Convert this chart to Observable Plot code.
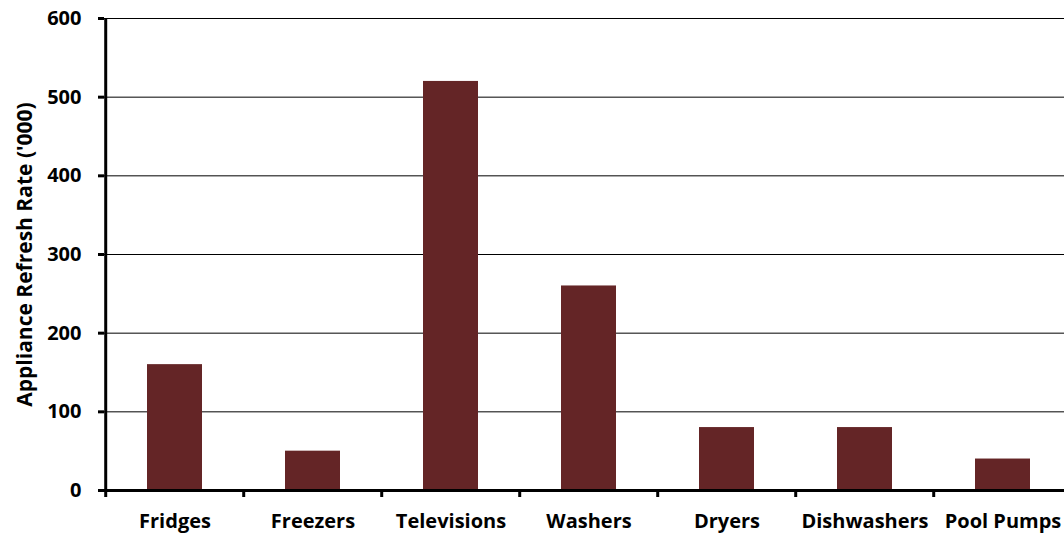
<!DOCTYPE html>
<html>
<head>
<meta charset="utf-8">
<script src="https://cdn.jsdelivr.net/npm/d3@7"></script>
<script src="https://cdn.jsdelivr.net/npm/@observablehq/plot@0.6"></script>
<style>
  html, body { margin: 0; padding: 0; background: #fff; overflow: hidden; }
  #chart svg { display: block; max-width: none; }
</style>
</head>
<body>
<div id="chart"></div>
<script>
// Appliance refresh rate, thousands of units per appliance type
const appliances = ["Fridges", "Freezers", "Televisions", "Washers", "Dryers", "Dishwashers", "Pool Pumps"];
const refreshRate = [160, 50, 520, 260, 80, 80, 40];
const yTicks = [0, 100, 200, 300, 400, 500, 600];
const yLabel = "Appliance Refresh Rate ('000)";

const data = appliances.map((name, i) => ({name, value: refreshRate[i]}));

const width = 1074, height = 536;
const marginLeft = 104, marginRight = 0, marginTop = 18, marginBottom = 46;
// half a category step, used to put x ticks on the category boundaries
const halfStep = (width - marginLeft - marginRight) / appliances.length / 2;
const font = "'Open Sans', sans-serif";

const chart = Plot.plot({
  width, height, marginLeft, marginRight, marginTop, marginBottom,
  style: {fontFamily: font, background: "#fff", maxWidth: "none"},
  x: {domain: appliances, paddingInner: 0.6, paddingOuter: 0.3, label: null},
  y: {domain: [0, 600], label: null},
  marks: [
    Plot.gridY(yTicks, {stroke: "#000", strokeOpacity: 1, strokeWidth: 1}),
    Plot.barY(data, {x: "name", y: "value", fill: "#642526"}),
    // y axis: ticks and bold labels
    Plot.axisY(yTicks, {tickSize: 6, tickPadding: 17, strokeWidth: 3, fontSize: 20, fontWeight: "bold", fill: "#000"}),
    // y axis line
    Plot.ruleX([appliances[0]], {dx: -halfStep, stroke: "#000", strokeWidth: 3}),
    // x axis line
    Plot.ruleY([0], {stroke: "#000", strokeWidth: 3}),
    // x ticks between categories
    Plot.axisX({tickSize: 7, text: null, dx: -halfStep, strokeWidth: 3}),
    // category labels
    Plot.axisX({tickSize: 0, tickPadding: 23, fontSize: 20, fontWeight: "bold", fill: "#000"}),
    // rotated y axis title, centred on the plot area
    Plot.text([yLabel], {frameAnchor: "left", textAnchor: "middle", rotate: -90, dx: -79, text: d => d, fontSize: 21, fontWeight: "bold", fill: "#000"})
  ]
});
document.getElementById("chart").append(chart);
</script>
</body>
</html>
